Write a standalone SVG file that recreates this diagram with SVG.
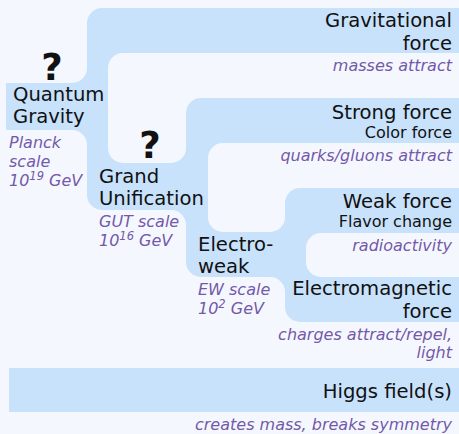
<svg xmlns="http://www.w3.org/2000/svg" width="459" height="434" viewBox="0 0 459 434">
<style>
.bg{fill:#f4f8fe}
.band{fill:#c8e2fc}
.hole{fill:#f4f8fe}
text{font-family:"DejaVu Sans","Verdana",sans-serif;fill:#111}
.t{font-size:19.6px}
.s{font-size:16px}
.d{font-size:16px;font-style:italic;fill:#7558aa}
.r{text-anchor:end}
.q{font-size:37px;font-weight:bold;text-anchor:middle}
.sup{font-size:11.5px}
</style>
<rect class="bg" x="0" y="0" width="459" height="434"/>
<g id="connectors">
  <rect class="band" x="6" y="8" width="453" height="314"/>
  <path class="hole" d="M0,0 H102 V8 A15,15 0 0 0 87,23 V68 A15,15 0 0 1 72,83 H0 Z"/>
  <path class="hole" d="M0,130 H72 A15,15 0 0 1 87,145 V195 A15,15 0 0 0 102,210 H171 A15,15 0 0 1 186,225 V262 A15,15 0 0 0 201,277 H270 A15,15 0 0 1 285,292 V307 A15,15 0 0 0 300,322 H460 V440 H0 Z"/>
  <path class="hole" d="M123,53 H460 V98 H201 A15,15 0 0 0 186,113 V148 A15,15 0 0 1 171,163 H123 A15,15 0 0 1 108,148 V68 A15,15 0 0 1 123,53 Z"/>
  <path class="hole" d="M223,143 H460 V188 H300 A15,15 0 0 0 285,203 V217 A15,15 0 0 1 270,232 H223 A15,15 0 0 1 208,217 V158 A15,15 0 0 1 223,143 Z"/>
  <path class="hole" d="M321,233 H460 V277 H321 A15,15 0 0 1 306,262 V248 A15,15 0 0 1 321,233 Z"/>
</g>
<g id="quantum-gravity">
  <text class="q" x="52" y="80">?</text>
  <text class="t" x="13" y="101">Quantum</text>
  <text class="t" x="13" y="123">Gravity</text>
  <text class="d" x="9" y="148">Planck</text>
  <text class="d" x="9" y="167">scale</text>
  <text class="d" x="9" y="186">10<tspan class="sup" dy="-6">19</tspan><tspan dy="6"> GeV</tspan></text>
</g>
<g id="gravitational">
  <text class="t r" x="452" y="27">Gravitational</text>
  <text class="t r" x="452" y="49.5">force</text>
  <text class="d r" x="452" y="70.5">masses attract</text>
</g>
<g id="grand-unification">
  <text class="q" x="150" y="158">?</text>
  <text class="t" x="99" y="183">Grand</text>
  <text class="t" x="99" y="205">Unification</text>
  <text class="d" x="99" y="227">GUT scale</text>
  <text class="d" x="99" y="246">10<tspan class="sup" dy="-6">16</tspan><tspan dy="6"> GeV</tspan></text>
</g>
<g id="strong">
  <text class="t r" x="452" y="118.5">Strong force</text>
  <text class="s r" x="452" y="137.5">Color force</text>
  <text class="d r" x="452" y="160.5">quarks/gluons attract</text>
</g>
<g id="electroweak">
  <text class="t" x="198" y="251">Electro-</text>
  <text class="t" x="198" y="273">weak</text>
  <text class="d" x="198" y="295">EW scale</text>
  <text class="d" x="198" y="314">10<tspan class="sup" dy="-6">2</tspan><tspan dy="6"> GeV</tspan></text>
</g>
<g id="weak">
  <text class="t r" x="452" y="208">Weak force</text>
  <text class="s r" x="452" y="227">Flavor change</text>
  <text class="d r" x="452" y="250.5">radioactivity</text>
</g>
<g id="electromagnetic">
  <text class="t r" x="452" y="295">Electromagnetic</text>
  <text class="t r" x="452" y="318">force</text>
  <text class="d r" x="452" y="340">charges attract/repel,</text>
  <text class="d r" x="452" y="358">light</text>
</g>
<g id="higgs">
  <rect class="band" x="9" y="368" width="450" height="44"/>
  <text class="t r" x="452" y="397.5">Higgs field(s)</text>
  <text class="d r" x="452" y="430">creates mass, breaks symmetry</text>
</g>
</svg>
